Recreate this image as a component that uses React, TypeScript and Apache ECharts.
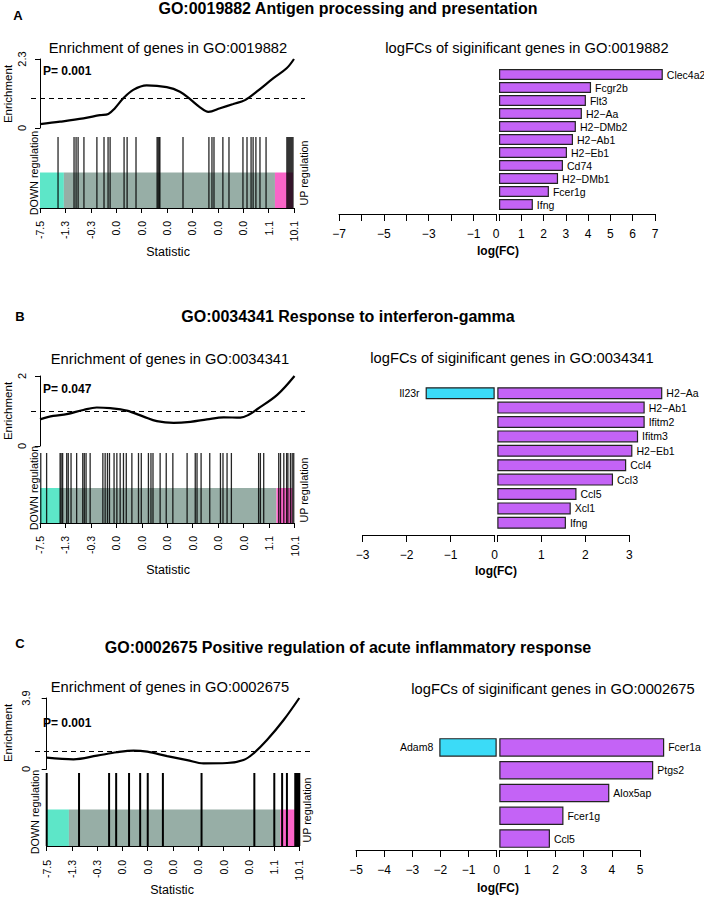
import React, { useEffect, useRef } from 'react';
import * as echarts from 'echarts';

const FONT = '"Liberation Sans", Arial, Helvetica, sans-serif';

// ---------- Panel A ----------
const titleA = 'GO:0019882 Antigen processing and presentation';
const goA = 'GO:0019882';
const pValueA = 'P= 0.001';
const enrichMaxA = 2.3;
const curvePosA = [0, 7.9, 17.1, 23.6, 26.9, 29.5, 32.8, 36.7, 42, 49.9, 55.1, 59.1, 63, 66.3, 70.9, 76.1, 80.7, 85.3, 91.9, 97.1, 100];
const curveValA = [0.13, 0.21, 0.32, 0.43, 0.47, 0.66, 0.99, 1.27, 1.42, 1.36, 1.21, 0.96, 0.69, 0.54, 0.66, 0.8, 0.93, 1.21, 1.66, 1.99, 2.3];
const barcodeA = [7.1, 13.4, 14.2, 15.0, 17.3, 22.4, 25.2, 26.8, 27.6, 33.1, 34.3, 37.8, 46.1, 46.5, 46.9, 47.2, 56.3, 66.5, 67.7, 68.5, 72.0, 74.4, 79.9, 81.5, 83.1, 83.9, 85.0, 86.6, 89.0, 97.2, 97.6, 98.0, 98.4, 98.8, 99.2, 99.6];
const regionsA = [9.4, 92.5, 99.6];
const statTicksA = ['-7.5', '-1.3', '-0.3', '0.0', '0.0', '0.0', '0.0', '0.0', '0.0', '1.1', '10.1'];
const upGenesA = ['Clec4a2', 'Fcgr2b', 'Flt3', 'H2\u2212Aa', 'H2\u2212DMb2', 'H2\u2212Ab1', 'H2\u2212Eb1', 'Cd74', 'H2\u2212DMb1', 'Fcer1g', 'Ifng'];
const upFCA = [7.35, 4.13, 3.9, 3.72, 3.45, 3.32, 3.05, 2.87, 2.65, 2.24, 1.52];
const downGenesA: string[] = [];
const downFCA: number[] = [];

// ---------- Panel B ----------
const titleB = 'GO:0034341 Response to interferon-gamma';
const goB = 'GO:0034341';
const pValueB = 'P= 0.047';
const enrichMaxB = 2;
const curvePosB = [0, 5.2, 10.5, 17.0, 22.3, 27.6, 34.1, 40.7, 45.9, 52.5, 59.1, 65.6, 72.2, 78.7, 82.0, 85.3, 93.2, 100];
const curveValB = [0.76, 0.86, 0.91, 1.03, 1.10, 1.08, 1.01, 0.84, 0.71, 0.66, 0.69, 0.76, 0.82, 0.81, 0.89, 1.05, 1.46, 2.0];
const barcodeB = [0.3, 2.6, 7.9, 8.3, 8.9, 10.5, 11.1, 12.2, 14.4, 16.8, 17.4, 18.1, 19.7, 24.7, 25.6, 26.5, 27.3, 29.1, 30.2, 31.5, 32.8, 33.9, 36.1, 38.7, 39.8, 42.6, 43.6, 44.4, 47.2, 49.6, 52.2, 57.8, 61.0, 61.7, 63.3, 66.7, 70.9, 71.9, 73.5, 75.2, 85.9, 86.6, 87.9, 93.8, 94.5, 95.8, 96.9, 97.4, 98.4, 99.1, 99.7];
const regionsB = [7.9, 92.9, 99.2];
const statTicksB = ['-7.5', '-1.3', '-0.3', '0.0', '0.0', '0.0', '0.0', '0.0', '0.0', '1.1', '10.1'];
const upGenesB = ['H2\u2212Aa', 'H2\u2212Ab1', 'Ifitm2', 'Ifitm3', 'H2\u2212Eb1', 'Ccl4', 'Ccl3', 'Ccl5', 'Xcl1', 'Ifng'];
const upFCB = [3.75, 3.35, 3.35, 3.2, 3.07, 2.93, 2.63, 1.8, 1.67, 1.56];
const downGenesB = ['Il23r'];
const downFCB = [-1.57];

// ---------- Panel C ----------
const titleC = 'GO:0002675 Positive regulation of acute inflammatory response';
const goC = 'GO:0002675';
const pValueC = 'P= 0.001';
const enrichMaxC = 3.9;
const curvePosC = [0, 10.6, 19.9, 27.8, 34.4, 39.8, 47.7, 55.6, 62.1, 71.4, 77.9, 81.9, 87.2, 93.8, 100];
const curveValC = [0.62, 0.53, 0.73, 0.92, 1.01, 0.95, 0.71, 0.49, 0.31, 0.33, 0.49, 0.86, 1.59, 2.69, 3.9];
const barcodeC = [0, 12.8, 24.7, 27.5, 32.6, 37, 40, 46, 61.3, 82.2, 90.1, 93.2, 95.1, 98.4, 98.8, 99.2, 99.6, 100];
const regionsC = [8.8, 92.4, 98.4];
const statTicksC = ['-7.5', '-1.3', '-0.3', '0.0', '0.0', '0.0', '0.0', '0.0', '0.0', '1.1', '10.1'];
const upGenesC = ['Fcer1a', 'Ptgs2', 'Alox5ap', 'Fcer1g', 'Ccl5'];
const upFCC = [5.86, 5.47, 3.91, 2.28, 1.8];
const downGenesC = ['Adam8'];
const downFCC = [-2.04];

// colours
const BC_COLORS = ['#5DE6C8', '#97AEA6', '#FA64C8'];
const UP_COLOR = '#C463F6';
const DOWN_COLOR = '#3BDBF7';

// layout (pixels)
const layoutA = {
  letter: [18, 15], titleY: 8, subL: [168, 48], subR: [527, 48],
  axisX: 31, dashEnd: 305, enrTop: 59, enrBottom: 128, plotLeft: 40, plotRight: 294,
  bcTop: 137, bcBottom: 208, bcAxisY: 214, pLab: [43, 71], ylab: [8, 94], down: [34, 173], up: [304, 173], stat: [168, 252],
  barTop: 68, barBottom: 211, barAxisY: 214, negL: 339, neg0: 496, pos0: 499, posR: 655, logfc: [498, 251], gap: '15%',
  negMin: -7, posMax: 7, negStep: 2, lw: 1.3, lop: 0.85,
};
const layoutB = {
  letter: [20, 316], titleY: 316, subL: [170, 359], subR: [512, 358],
  axisX: 31, dashEnd: 305, enrTop: 376, enrBottom: 446, plotLeft: 40, plotRight: 294.5,
  bcTop: 453, bcBottom: 523, bcAxisY: 529, pLab: [43, 389], ylab: [8, 411], down: [34, 488], up: [304, 490], stat: [168, 570],
  barTop: 386, barBottom: 530, barAxisY: 535, negL: 362.7, neg0: 494.7, pos0: 497.3, posR: 629.3, logfc: [496, 571], gap: '17%',
  negMin: -3, posMax: 3, negStep: 1, lw: 1.3, lop: 0.85,
};
const layoutC = {
  letter: [20, 643], titleY: 647, subL: [170, 687], subR: [553, 689],
  axisX: 35, dashEnd: 310, enrTop: 698, enrBottom: 769, plotLeft: 46.7, plotRight: 299.3,
  bcTop: 773, bcBottom: 846, bcAxisY: 853, pLab: [43, 723], ylab: [8, 733], down: [35, 812], up: [307, 810], stat: [172, 890],
  barTop: 736, barBottom: 850, barAxisY: 850, negL: 356, neg0: 496.7, pos0: 499.3, posR: 640, logfc: [498, 888], gap: '19%',
  negMin: -5, posMax: 5, negStep: 1, lw: 2, lop: 1,
};

const PANELS = [
  { letter: 'A', title: titleA, go: goA, p: pValueA, enrichMax: enrichMaxA, curvePos: curvePosA, curveVal: curveValA, barcode: barcodeA, regions: regionsA, statTicks: statTicksA, upGenes: upGenesA, upFC: upFCA, downGenes: downGenesA, downFC: downFCA, L: layoutA },
  { letter: 'B', title: titleB, go: goB, p: pValueB, enrichMax: enrichMaxB, curvePos: curvePosB, curveVal: curveValB, barcode: barcodeB, regions: regionsB, statTicks: statTicksB, upGenes: upGenesB, upFC: upFCB, downGenes: downGenesB, downFC: downFCB, L: layoutB },
  { letter: 'C', title: titleC, go: goC, p: pValueC, enrichMax: enrichMaxC, curvePos: curvePosC, curveVal: curveValC, barcode: barcodeC, regions: regionsC, statTicks: statTicksC, upGenes: upGenesC, upFC: upFCC, downGenes: downGenesC, downFC: downFCC, L: layoutC },
];

const fmtNum = (v: number) => (v < 0 ? '\u2212' + Math.abs(v) : String(v));

function text(x: number, y: number, t: string, size: number, opts: any = {}) {
  const align = opts.align || 'center';
  return {
    type: 'text', x, y, rotation: opts.rot || 0, z: 100, silent: true,
    style: {
      text: t, fontSize: size, fontWeight: opts.bold ? 'bold' : 'normal', fontFamily: FONT, fill: '#000',
      align, verticalAlign: 'middle', textAlign: align, textVerticalAlign: 'middle',
    },
  };
}

function buildOption() {
  const grids: any[] = [];
  const xAxes: any[] = [];
  const yAxes: any[] = [];
  const series: any[] = [];
  const graphics: any[] = [];
  const axisLine = { show: true, lineStyle: { color: '#000', width: 1 } };

  PANELS.forEach((P) => {
    const L: any = P.L;
    const s = (L.plotRight - L.plotLeft) / 100;

    // ---- enrichment curve ----
    const gE = grids.length;
    grids.push({ show: false, left: L.axisX, top: L.enrTop, width: L.dashEnd - L.axisX, height: L.enrBottom - L.enrTop, outerBoundsMode: 'none', containLabel: false });
    xAxes.push({ type: 'value', gridIndex: gE, min: (L.axisX - L.plotLeft) / s, max: (L.dashEnd - L.plotLeft) / s, show: false });
    yAxes.push({
      type: 'value', gridIndex: gE, min: 0, max: P.enrichMax, interval: P.enrichMax,
      axisLine, axisTick: { show: true, length: 5, lineStyle: { color: '#000' } },
      axisLabel: { rotate: 90, fontSize: 11, color: '#000', margin: 4, fontFamily: FONT, formatter: (v: number) => String(Math.round(v * 10) / 10) },
      splitLine: { show: false },
    });
    series.push({
      type: 'line', xAxisIndex: gE, yAxisIndex: gE, smooth: 0.35, showSymbol: false, symbol: 'none',
      data: P.curvePos.map((x, i) => [x, P.curveVal[i]]),
      lineStyle: { color: '#000', width: 2.2 },
      markLine: { silent: true, symbol: 'none', label: { show: false }, lineStyle: { color: '#000', width: 1, type: [5, 4] }, data: [{ yAxis: 1 }] },
    });

    // ---- barcode ----
    const gB = grids.length;
    grids.push({ show: false, left: L.plotLeft, top: L.bcTop, width: L.plotRight - L.plotLeft, height: L.bcBottom - L.bcTop, outerBoundsMode: 'none', containLabel: false });
    xAxes.push({
      type: 'value', gridIndex: gB, min: 0, max: 100, interval: 10, offset: L.bcAxisY - L.bcBottom,
      axisLine, axisTick: { show: true, length: 5, lineStyle: { color: '#000' } },
      axisLabel: { rotate: 90, fontSize: 10.5, color: '#000', margin: 7, fontFamily: FONT, formatter: (v: number) => P.statTicks[Math.round(v / 10)] ?? '' },
      splitLine: { show: false },
    });
    yAxes.push({ type: 'value', gridIndex: gB, min: 0, max: 1, show: false });
    const r = P.regions;
    series.push({
      type: 'custom', xAxisIndex: gB, yAxisIndex: gB,
      data: [[0, r[0], 0], [r[0], r[1], 1], [r[1], r[2], 2]],
      renderItem: (params: any, api: any) => {
        const a = api.coord([api.value(0), 0]);
        const b = api.coord([api.value(1), 0.5]);
        return { type: 'rect', shape: { x: a[0], y: b[1], width: b[0] - a[0], height: a[1] - b[1] }, style: { fill: BC_COLORS[api.value(2)] } };
      },
    });
    series.push({
      type: 'custom', xAxisIndex: gB, yAxisIndex: gB,
      data: P.barcode.map((v) => [v, 0]),
      renderItem: (params: any, api: any) => {
        const top = api.coord([api.value(0), 1]);
        const bot = api.coord([api.value(0), 0]);
        return { type: 'line', shape: { x1: top[0], y1: top[1], x2: bot[0], y2: bot[1] }, style: { stroke: '#000', lineWidth: L.lw, opacity: L.lop } };
      },
    });

    // ---- logFC bars ----
    const nRows = Math.max(P.upGenes.length, P.downGenes.length);
    const cats = Array.from({ length: nRows }, (_, i) => String(i));
    const tickStyle = { show: true, length: 7, lineStyle: { color: '#000' } };

    const gN = grids.length;
    grids.push({ show: false, left: L.negL, top: L.barTop, width: L.neg0 - L.negL, height: L.barBottom - L.barTop, outerBoundsMode: 'none', containLabel: false });
    xAxes.push({
      type: 'value', gridIndex: gN, min: L.negMin, max: 0, interval: 1, offset: L.barAxisY - L.barBottom,
      axisLine, axisTick: tickStyle, splitLine: { show: false },
      axisLabel: { fontSize: 12, color: '#000', margin: 14, fontFamily: FONT, formatter: (v: number) => (v === 0 || Math.round(v - L.negMin) % L.negStep === 0 ? fmtNum(v) : '') },
    });
    yAxes.push({ type: 'category', gridIndex: gN, data: cats, inverse: true, show: false });
    series.push({
      type: 'bar', xAxisIndex: gN, yAxisIndex: gN, barCategoryGap: L.gap, clip: false,
      data: cats.map((_, i) => (P.downFC[i] !== undefined ? P.downFC[i] : '-')),
      itemStyle: { color: DOWN_COLOR, borderColor: '#222', borderWidth: 1.2 },
      label: { show: true, position: 'left', distance: 6, fontSize: 10.5, color: '#000', fontFamily: FONT, formatter: (p: any) => P.downGenes[p.dataIndex] || '' },
    });

    const gP = grids.length;
    grids.push({ show: false, left: L.pos0, top: L.barTop, width: L.posR - L.pos0, height: L.barBottom - L.barTop, outerBoundsMode: 'none', containLabel: false });
    xAxes.push({
      type: 'value', gridIndex: gP, min: 0, max: L.posMax, interval: 1, offset: L.barAxisY - L.barBottom,
      axisLine, axisTick: tickStyle, splitLine: { show: false },
      axisLabel: { fontSize: 12, color: '#000', margin: 14, fontFamily: FONT, formatter: (v: number) => (v === 0 ? '' : fmtNum(v)) },
    });
    yAxes.push({ type: 'category', gridIndex: gP, data: cats, inverse: true, show: false });
    series.push({
      type: 'bar', xAxisIndex: gP, yAxisIndex: gP, barCategoryGap: L.gap, clip: false,
      data: cats.map((_, i) => (P.upFC[i] !== undefined ? P.upFC[i] : '-')),
      itemStyle: { color: UP_COLOR, borderColor: '#222', borderWidth: 1.2 },
      label: { show: true, position: 'right', distance: 4, fontSize: 10.5, color: '#000', fontFamily: FONT, formatter: (p: any) => P.upGenes[p.dataIndex] || '' },
    });

    // ---- texts ----
    graphics.push(text(L.letter[0], L.letter[1], P.letter, 13, { bold: true }));
    graphics.push(text(348, L.titleY, P.title, 16, { bold: true }));
    graphics.push(text(L.subL[0], L.subL[1], 'Enrichment of genes in ' + P.go, 14.7));
    graphics.push(text(L.subR[0], L.subR[1], 'logFCs of siginificant genes in ' + P.go, 14.7));
    graphics.push(text(L.pLab[0], L.pLab[1], P.p, 12, { bold: true, align: 'left' }));
    graphics.push(text(L.ylab[0], L.ylab[1], 'Enrichment', 11.5, { rot: Math.PI / 2 }));
    graphics.push(text(L.down[0], L.down[1], 'DOWN regulation', 10.8, { rot: Math.PI / 2 }));
    graphics.push(text(L.up[0], L.up[1], 'UP regulation', 10.8, { rot: Math.PI / 2 }));
    graphics.push(text(L.stat[0], L.stat[1], 'Statistic', 12.5));
    graphics.push(text(L.logfc[0], L.logfc[1], 'log(FC)', 12, { bold: true }));
  });

  return {
    animation: false,
    backgroundColor: '#ffffff',
    textStyle: { fontFamily: FONT },
    grid: grids,
    xAxis: xAxes,
    yAxis: yAxes,
    series,
    graphic: graphics,
  };
}

export default function App() {
  const ref = useRef<HTMLDivElement>(null);
  useEffect(() => {
    document.body.style.margin = '0';
    if (!ref.current) return;
    const chart = echarts.init(ref.current, undefined, { renderer: 'svg' });
    chart.setOption(buildOption() as any);
    return () => chart.dispose();
  }, []);
  return <div ref={ref} style={{ width: 704, height: 898 }} />;
}
